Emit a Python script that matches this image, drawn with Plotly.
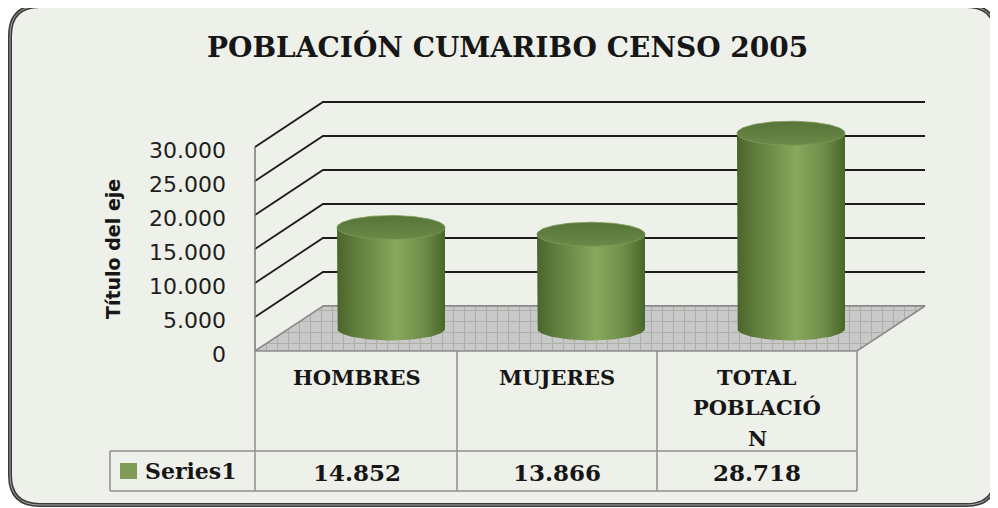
import numpy as np
import plotly.graph_objects as go

# ---------------- data ----------------
categories = ["HOMBRES", "MUJERES", "TOTAL POBLACIÓN"]
category_label_lines = [["HOMBRES"], ["MUJERES"], ["TOTAL", "POBLACIÓ", "N"]]
values = [14852, 13866, 28718]
series_name = "Series1"
y_ticks = [0, 5000, 10000, 15000, 20000, 25000, 30000]
chart_title = "POBLACIÓN CUMARIBO CENSO 2005"
y_title = "Título del eje"

# ---------------- layout constants ----------------
OFF = 8                     # page body margin
W, H = 998 - OFF, 508 - OFF
PX_PER_CAT = 200.0          # pixels per category on the front plane
PX_PER_UNIT = 204 / 30000   # pixels per value unit
X_LEFT, X_RIGHT = -0.51, 2.5
XMIN = X_LEFT - (255 - OFF) / PX_PER_CAT
XMAX = XMIN + W / PX_PER_CAT
YMAX = (351 - OFF) / PX_PER_UNIT
YMIN = YMAX - H / PX_PER_UNIT
DX = 68 / PX_PER_CAT        # depth offset (x, in category units)
DY = 45 / PX_PER_UNIT       # depth offset (y, in value units)
R = 0.27                    # cylinder radius (category units)
RY = 12 / PX_PER_UNIT       # ellipse half height (value units)

BG = "#EEF1E9"
GRID = "#1c1c1c"
TABLE = "#8e8e8e"


def fmt(v):
    return f"{v:,}".replace(",", ".")


def py_to_paper(py):
    return 1 - (py - OFF) / H


def px_to_paper(px):
    return (px - OFF) / W


fig = go.Figure()

# ---------------- walls / gridlines ----------------
gx, gy = [], []
for t in y_ticks:
    if t == 0:
        continue
    gx += [X_LEFT, X_LEFT + DX, X_RIGHT + DX, None]
    gy += [t, t + DY, t + DY, None]
fig.add_trace(go.Scatter(x=gx, y=gy, mode="lines",
                         line=dict(color=GRID, width=1.8),
                         hoverinfo="skip", showlegend=False))
fig.add_trace(go.Scatter(x=[X_LEFT + DX, X_RIGHT + DX], y=[DY, DY], mode="lines",
                         line=dict(color="#555555", width=1.5),
                         hoverinfo="skip", showlegend=False))
fig.add_trace(go.Scatter(x=[X_LEFT, X_LEFT], y=[0, y_ticks[-1]], mode="lines",
                         line=dict(color="#777777", width=1.5),
                         hoverinfo="skip", showlegend=False))

# ---------------- floor ----------------
fig.add_trace(go.Scatter(
    x=[X_LEFT, X_LEFT + DX, X_RIGHT + DX, X_RIGHT, X_LEFT],
    y=[0, DY, DY, 0, 0],
    mode="lines", fill="toself",
    fillcolor="#c2c2c2",
    fillpattern=dict(shape="+", bgcolor="#c9c9c9", fgcolor="#8e9888",
                     size=11, solidity=0.2),
    line=dict(color="#8a8a8a", width=1.5),
    hoverinfo="skip", showlegend=False))

# ---------------- cylinders ----------------
theta_low = np.linspace(np.pi, 2 * np.pi, 60)
theta_full = np.linspace(0, 2 * np.pi, 120)
body_scale = [[0.0, "#4a652b"], [0.2, "#62803f"], [0.55, "#89a85c"],
              [0.8, "#6f8e49"], [1.0, "#4a652b"]]
top_scale = [[0.0, "#58743a"], [1.0, "#6a8947"]]
for i, (cat, v) in enumerate(zip(categories, values)):
    cx = i + DX / 2
    base = DY / 2
    top = v + DY / 2
    bx = [cx - R, cx - R] + list(cx + R * np.cos(theta_low)) + [cx + R, cx - R]
    by = [top, base] + list(base + RY * np.sin(theta_low)) + [top, top]
    fig.add_trace(go.Scatter(
        x=bx, y=by, mode="lines", fill="toself",
        fillgradient=dict(type="horizontal", colorscale=body_scale,
                          start=cx - R, stop=cx + R),
        line=dict(width=0, color="rgba(0,0,0,0)"),
        name=cat, hoverinfo="skip", showlegend=False))
    tx = list(cx + R * np.cos(theta_full))
    ty = list(top + RY * np.sin(theta_full))
    fig.add_trace(go.Scatter(
        x=tx, y=ty, mode="lines", fill="toself",
        fillgradient=dict(type="vertical", colorscale=top_scale,
                          start=top + RY, stop=top - RY),
        line=dict(width=0.8, color="#7e9a58"),
        hoverinfo="skip", showlegend=False))

# ---------------- shapes: background, border, table ----------------
def rounded_path(x0, y0, x1, y1, r):
    def P(px, py):
        return f"{px_to_paper(px):.5f},{py_to_paper(py):.5f}"
    return (f"M {P(x0 + r, y0)} L {P(x1 - r, y0)} Q {P(x1, y0)} {P(x1, y0 + r)} "
            f"L {P(x1, y1 - r)} Q {P(x1, y1)} {P(x1 - r, y1)} "
            f"L {P(x0 + r, y1)} Q {P(x0, y1)} {P(x0, y1 - r)} "
            f"L {P(x0, y0 + r)} Q {P(x0, y0)} {P(x0 + r, y0)} Z")

shapes = [
    dict(type="path", xref="paper", yref="paper", layer="below",
         path=rounded_path(10, 6, 996, 505, 30),
         fillcolor=BG, line=dict(color="#3a3a3a", width=4)),
    dict(type="path", xref="paper", yref="paper", layer="below",
         path=rounded_path(10, 6, 996, 505, 30),
         line=dict(color="#a8a8a8", width=1)),
]

row_mid = YMAX - (451 - OFF) / PX_PER_UNIT
row_bot = YMAX - (491 - OFF) / PX_PER_UNIT
legend_left = XMIN + (110 - OFF) / PX_PER_CAT
col_edges = [X_LEFT] + [i + 0.5 for i in range(len(categories) - 1)] + [X_RIGHT]
for xe in col_edges:
    shapes.append(dict(type="line", xref="x", yref="y", x0=xe, x1=xe, y0=0, y1=row_bot,
                       line=dict(color=TABLE, width=1.5)))
shapes.append(dict(type="line", xref="x", yref="y", x0=legend_left, x1=legend_left,
                   y0=row_mid, y1=row_bot, line=dict(color=TABLE, width=1.5)))
for yy in [row_mid, row_bot]:
    shapes.append(dict(type="line", xref="x", yref="y", x0=legend_left, x1=X_RIGHT,
                       y0=yy, y1=yy, line=dict(color=TABLE, width=1.5)))
shapes.append(dict(type="rect", xref="paper", yref="paper",
                   x0=px_to_paper(120), x1=px_to_paper(137),
                   y0=py_to_paper(479), y1=py_to_paper(463),
                   fillcolor="#7e9c56", line=dict(width=0)))

# ---------------- annotations ----------------
ann = []
ann.append(dict(text=f"<b>{chart_title}</b>", xref="paper", yref="paper",
                x=px_to_paper(507), y=py_to_paper(47), xanchor="center", yanchor="middle",
                showarrow=False, font=dict(family="DejaVu Serif", size=28, color="#161616")))
ann.append(dict(text=f"<b>{y_title}</b>", xref="paper", yref="paper",
                x=px_to_paper(113), y=py_to_paper(249), xanchor="center", yanchor="middle",
                textangle=-90, showarrow=False,
                font=dict(family="DejaVu Sans", size=19, color="#161616")))
for t in y_ticks:
    ann.append(dict(text=fmt(t), xref="x", yref="y", x=X_LEFT, y=t,
                    xanchor="right", yanchor="middle", xshift=-27, yshift=-3,
                    showarrow=False,
                    font=dict(family="DejaVu Sans", size=22, color="#1e1e1e")))
for i, lines in enumerate(category_label_lines):
    for k, line in enumerate(lines):
        ann.append(dict(text=f"<b>{line}</b>", xref="x", yref="y", x=i, y=0,
                        xanchor="center", yanchor="middle", yshift=-26 - 30.5 * k,
                        showarrow=False,
                        font=dict(family="DejaVu Serif", size=21, color="#161616")))
for i, v in enumerate(values):
    ann.append(dict(text=f"<b>{fmt(v)}</b>", xref="x", yref="paper", x=i,
                    y=py_to_paper(472), xanchor="center", yanchor="middle",
                    showarrow=False,
                    font=dict(family="DejaVu Serif", size=23, color="#161616")))
ann.append(dict(text=f"<b>{series_name}</b>", xref="paper", yref="paper",
                x=px_to_paper(143), y=py_to_paper(471), xanchor="left", yanchor="middle",
                showarrow=False,
                font=dict(family="DejaVu Serif", size=22, color="#161616")))

fig.update_layout(
    width=W, height=H,
    margin=dict(l=0, r=0, t=0, b=0),
    paper_bgcolor="white", plot_bgcolor="rgba(0,0,0,0)",
    xaxis=dict(range=[XMIN, XMAX], visible=False, fixedrange=True),
    yaxis=dict(range=[YMIN, YMAX], visible=False, fixedrange=True),
    shapes=shapes, annotations=ann, showlegend=False,
)

fig.write_html("out.html")
